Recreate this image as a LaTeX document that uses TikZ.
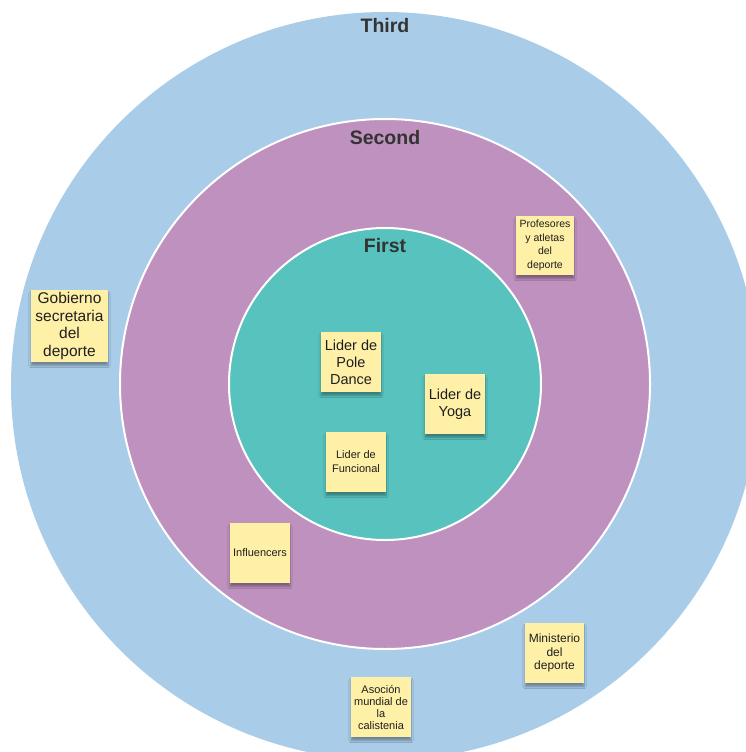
\documentclass[tikz,border=0pt]{standalone}
\usepackage{fontspec}
\setmainfont{Liberation Sans}
\usetikzlibrary{shadows.blur}
\definecolor{outerblue}{HTML}{A9CCE8}
\definecolor{midpurple}{HTML}{BF91BF}
\definecolor{innerteal}{HTML}{58C2BE}
\definecolor{stickyyellow}{HTML}{FFF0A8}
\definecolor{titlegrey}{HTML}{333333}
\begin{document}
\begin{tikzpicture}[x=1pt,y=-1pt,
  ring/.style={draw=white, line width=2pt},
  ringtitle/.style={font=\fontsize{19.5}{21}\selectfont\bfseries, text=titlegrey},
  sticky/.style={fill=stickyyellow, inner sep=0pt, align=center, text=black!88,
    blur shadow={shadow xshift=0pt, shadow yshift=-3.5pt, shadow opacity=35, shadow blur steps=6}}]
\useasboundingbox (0,0) rectangle (746,752);
\clip (0,0) rectangle (746,752);
\fill[white] (0,0) rectangle (746,752);
% rings
\fill[outerblue] (385,386) circle [radius=374];
\filldraw[ring, fill=midpurple] (385,384) circle [radius=265];
\filldraw[ring, fill=innerteal] (385,384) circle [radius=156];
% titles
\node[ringtitle] (third) at (385,26) {Third};
\node[ringtitle] (second) at (385,138) {Second};
\node[ringtitle] (first) at (385,246) {First};
% sticky notes
\node[sticky, minimum width=77pt, minimum height=72pt, font=\fontsize{15.5}{17.5}\selectfont]
  (gob) at (69.5,326) {Gobierno\\secretaria\\del\\deporte};
\node[sticky, minimum width=58pt, minimum height=59pt, font=\fontsize{10.5}{13.5}\selectfont]
  (prof) at (545,245.5) {Profesores\\y atletas\\del\\deporte};
\node[sticky, minimum width=60pt, minimum height=60pt, font=\fontsize{11}{13}\selectfont]
  (infl) at (260,553) {Influencers};
\node[sticky, minimum width=60pt, minimum height=60pt, font=\fontsize{14.5}{17}\selectfont]
  (pole) at (351,362) {Lider de\\Pole\\Dance};
\node[sticky, minimum width=60pt, minimum height=60pt, font=\fontsize{14.5}{17}\selectfont]
  (yoga) at (455,404) {Lider de\\Yoga};
\node[sticky, minimum width=60pt, minimum height=60pt, font=\fontsize{11}{14}\selectfont]
  (func) at (356,462) {Lider de\\Funcional};
\node[sticky, minimum width=59pt, minimum height=60pt, font=\fontsize{12}{13.5}\selectfont]
  (min) at (554.5,653) {Ministerio\\del\\deporte};
\node[sticky, minimum width=60pt, minimum height=60pt, font=\fontsize{11}{12}\selectfont]
  (aso) at (381,707) {Asoción\\mundial de\\la\\calistenia};
\end{tikzpicture}
\end{document}
